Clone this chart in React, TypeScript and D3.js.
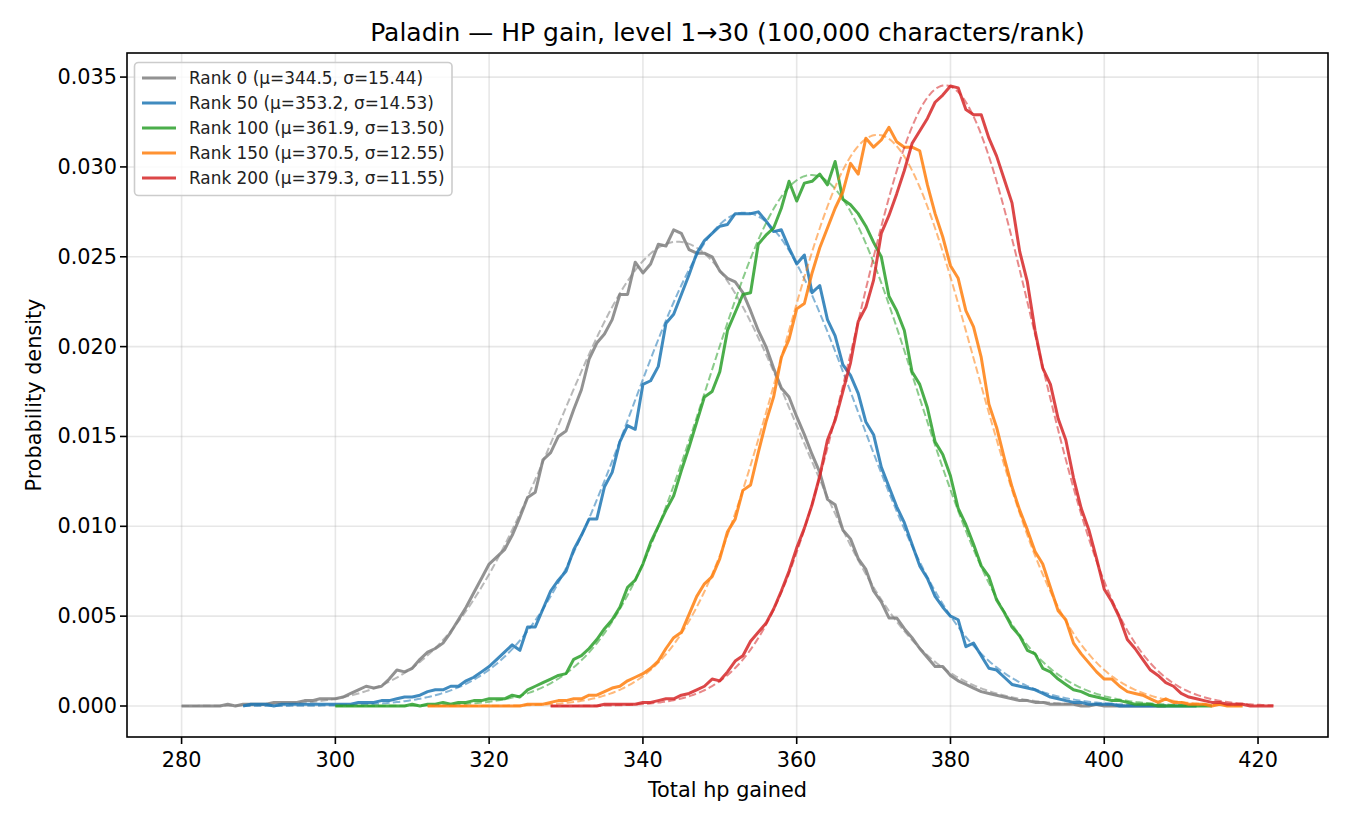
import * as d3 from "d3";

const WIDTH = 1350;
const HEIGHT = 825;
const MARGIN = { top: 53, right: 22, bottom: 88, left: 127 };
const FONT = "DejaVu Sans, sans-serif";

const TITLE = "Paladin — HP gain, level 1→30 (100,000 characters/rank)";
const X_LABEL = "Total hp gained";
const Y_LABEL = "Probability density";

const RANKS = [0, 50, 100, 150, 200];
const MUS = [344.5, 353.2, 361.9, 370.5, 379.3];
const SIGMAS = [15.44, 14.53, 13.5, 12.55, 11.55];
const STARTS = [280, 288, 300, 312, 328];
const COLORS = ["#7f7f7f", "#1f77b4", "#2ca02c", "#ff7f0e", "#d62728"];

const X_TICKS = [280, 300, 320, 340, 360, 380, 400, 420];
const Y_TICKS = [0, 0.005, 0.01, 0.015, 0.02, 0.025, 0.03, 0.035];

// observed density per hp value, starting at STARTS[i]
const RANK_0 = [
  0.0, 0.0, 0.0, 0.0, 0.0, 0.0, 0.0001, 0.0, 0.0001, 0.0001,
  0.0001, 0.0001, 0.0002, 0.0002, 0.0002, 0.0002, 0.0003, 0.0003, 0.0004, 0.0004,
  0.0004, 0.0005, 0.0007, 0.0009, 0.0011, 0.001, 0.0011, 0.0015, 0.002, 0.0019,
  0.0021, 0.0026, 0.003, 0.0032, 0.0035, 0.0041, 0.0048, 0.0055, 0.0063, 0.0071,
  0.0079, 0.0083, 0.0087, 0.0095, 0.0105, 0.0116, 0.0119, 0.0137, 0.0141, 0.015,
  0.0153, 0.0165, 0.0176, 0.0193, 0.0202, 0.0207, 0.0215, 0.0229, 0.0229, 0.0247,
  0.0241, 0.0246, 0.0257, 0.0256, 0.0265, 0.0263, 0.0254, 0.0252, 0.0252, 0.025,
  0.0242, 0.0238, 0.0236, 0.023, 0.022, 0.0209, 0.02, 0.0188, 0.0177, 0.0172,
  0.0161, 0.0151, 0.014, 0.013, 0.0115, 0.0112, 0.0098, 0.0093, 0.0082, 0.0076,
  0.0064, 0.0058, 0.0049, 0.0049, 0.0043, 0.0038, 0.0032, 0.0027, 0.0022, 0.0022,
  0.0017, 0.0014, 0.0012, 0.001, 0.0008, 0.0007, 0.0006, 0.0005, 0.0004, 0.0003,
  0.0003, 0.0002, 0.0002, 0.0001, 0.0001, 0.0001, 0.0001, 0.0, 0.0, 0.0001,
  0.0, 0.0, 0.0, 0.0, 0.0, 0.0, 0.0, 0.0, 0.0,
];

const RANK_50 = [
  0.0, 0.0001, 0.0001, 0.0001, 0.0, 0.0001, 0.0001, 0.0001, 0.0001, 0.0001,
  0.0001, 0.0001, 0.0001, 0.0001, 0.0001, 0.0002, 0.0002, 0.0002, 0.0003, 0.0003,
  0.0004, 0.0005, 0.0005, 0.0006, 0.0008, 0.0009, 0.0009, 0.0011, 0.0011, 0.0014,
  0.0016, 0.0019, 0.0022, 0.0026, 0.003, 0.0034, 0.0031, 0.0044, 0.0044, 0.0054,
  0.0064, 0.007, 0.0075, 0.0087, 0.0095, 0.0104, 0.0104, 0.0122, 0.013, 0.0147,
  0.0156, 0.0154, 0.0179, 0.0181, 0.0189, 0.0213, 0.0218, 0.0229, 0.024, 0.0252,
  0.0259, 0.0263, 0.0267, 0.0268, 0.0274, 0.0274, 0.0274, 0.0275, 0.027, 0.0264,
  0.0265, 0.0255, 0.0246, 0.0251, 0.023, 0.0234, 0.0215, 0.0206, 0.019, 0.0184,
  0.0174, 0.0158, 0.0151, 0.0133, 0.0122, 0.0111, 0.0102, 0.009, 0.0078, 0.0071,
  0.0061, 0.0055, 0.005, 0.0048, 0.0033, 0.0035, 0.0028, 0.0021, 0.002, 0.0016,
  0.0012, 0.0011, 0.001, 0.0009, 0.0007, 0.0005, 0.0004, 0.0003, 0.0002, 0.0002,
  0.0001, 0.0001, 0.0001, 0.0001, 0.0, 0.0, 0.0, 0.0, 0.0, 0.0,
  0.0, 0.0, 0.0, 0.0, 0.0,
];

const RANK_100 = [
  0.0, 0.0, 0.0, 0.0, 0.0, 0.0, 0.0, 0.0, 0.0, 0.0,
  0.0001, 0.0, 0.0001, 0.0001, 0.0002, 0.0001, 0.0002, 0.0002, 0.0003, 0.0003,
  0.0004, 0.0004, 0.0004, 0.0006, 0.0005, 0.0009, 0.0011, 0.0013, 0.0015, 0.0017,
  0.0018, 0.0026, 0.0028, 0.0032, 0.0037, 0.0043, 0.0048, 0.0055, 0.0066, 0.007,
  0.0079, 0.0091, 0.01, 0.0109, 0.0117, 0.0131, 0.0144, 0.0158, 0.0172, 0.0175,
  0.0186, 0.0209, 0.0219, 0.0229, 0.023, 0.0257, 0.0262, 0.0266, 0.0277, 0.0292,
  0.0281, 0.0291, 0.0292, 0.0296, 0.029, 0.0303, 0.0282, 0.0279, 0.0274, 0.0267,
  0.0258, 0.025, 0.0228, 0.022, 0.0209, 0.0186, 0.0179, 0.0166, 0.0147, 0.014,
  0.0128, 0.011, 0.0101, 0.009, 0.0078, 0.0072, 0.0059, 0.0052, 0.0044, 0.0039,
  0.0031, 0.0029, 0.0021, 0.0019, 0.0015, 0.0012, 0.0009, 0.0008, 0.0006, 0.0005,
  0.0004, 0.0003, 0.0003, 0.0002, 0.0001, 0.0001, 0.0001, 0.0, 0.0, 0.0,
  0.0, 0.0, 0.0, 0.0, 0.0,
];

const RANK_150 = [
  0.0, 0.0, 0.0, 0.0, 0.0, 0.0, 0.0, 0.0, 0.0, 0.0,
  0.0, 0.0, 0.0, 0.0001, 0.0001, 0.0001, 0.0002, 0.0003, 0.0003, 0.0004,
  0.0004, 0.0006, 0.0006, 0.0008, 0.001, 0.0011, 0.0014, 0.0016, 0.0018, 0.0021,
  0.0025, 0.0032, 0.0038, 0.0041, 0.0051, 0.0061, 0.0068, 0.0072, 0.0082, 0.0097,
  0.0104, 0.012, 0.0123, 0.0141, 0.0158, 0.0172, 0.0194, 0.0204, 0.0221, 0.0224,
  0.0241, 0.0255, 0.0266, 0.0277, 0.0286, 0.0302, 0.0296, 0.0316, 0.0311, 0.0315,
  0.0322, 0.0314, 0.0311, 0.0311, 0.0309, 0.029, 0.0274, 0.0261, 0.0245, 0.0238,
  0.022, 0.0211, 0.0194, 0.0168, 0.0155, 0.0138, 0.0122, 0.0109, 0.0098, 0.0086,
  0.0079, 0.0066, 0.0053, 0.0048, 0.0035, 0.0029, 0.0024, 0.0019, 0.0015, 0.0015,
  0.0011, 0.0008, 0.0007, 0.0006, 0.0004, 0.0002, 0.0004, 0.0002, 0.0002, 0.0001,
  0.0001, 0.0001, 0.0, 0.0001, 0.0, 0.0, 0.0,
];

const RANK_200 = [
  0.0, 0.0, 0.0, 0.0, 0.0, 0.0, 0.0, 0.0001, 0.0001, 0.0001,
  0.0001, 0.0001, 0.0002, 0.0002, 0.0003, 0.0004, 0.0004, 0.0006, 0.0007, 0.0009,
  0.0011, 0.0015, 0.0014, 0.0019, 0.0025, 0.0028, 0.0036, 0.0041, 0.0046, 0.0054,
  0.0064, 0.0075, 0.0088, 0.0099, 0.0112, 0.0128, 0.0148, 0.0159, 0.0175, 0.0191,
  0.0214, 0.0222, 0.0237, 0.0263, 0.0273, 0.0285, 0.0298, 0.0313, 0.032, 0.0327,
  0.0336, 0.034, 0.0345, 0.0344, 0.0332, 0.0329, 0.0329, 0.0316, 0.0306, 0.0293,
  0.028, 0.0253, 0.0236, 0.0209, 0.0188, 0.0179, 0.016, 0.0148, 0.0127, 0.011,
  0.0098, 0.0082, 0.0065, 0.0058, 0.0049, 0.0037, 0.0032, 0.0026, 0.002, 0.0017,
  0.0013, 0.0011, 0.0007, 0.0005, 0.0004, 0.0003, 0.0002, 0.0002, 0.0001, 0.0001,
  0.0001, 0.0, 0.0, 0.0, 0.0,
];

const OBSERVED = [RANK_0, RANK_50, RANK_100, RANK_150, RANK_200];

type Pt = [number, number];

function normalPdf(v: number, mu: number, sigma: number) {
  const z = (v - mu) / sigma;
  return Math.exp(-0.5 * z * z) / (sigma * Math.sqrt(2 * Math.PI));
}

export default function App() {
  const x = d3
    .scaleLinear()
    .domain([272.9, 429.1])
    .range([MARGIN.left, WIDTH - MARGIN.right]);
  const y = d3
    .scaleLinear()
    .domain([-0.001725, 0.03634])
    .range([HEIGHT - MARGIN.bottom, MARGIN.top]);

  const line = d3
    .line<Pt>()
    .x((d) => x(d[0]))
    .y((d) => y(d[1]));

  const x0 = MARGIN.left;
  const x1 = WIDTH - MARGIN.right;
  const y0 = HEIGHT - MARGIN.bottom;
  const y1 = MARGIN.top;

  const series = RANKS.map((rank, i) => {
    const vals = OBSERVED[i];
    const start = STARTS[i];
    const pts: Pt[] = vals.map((v, j) => [start + j, v]);
    const end = start + vals.length - 1;
    const fit: Pt[] = d3
      .range(start, end + 0.001, 0.25)
      .map((v) => [v, normalPdf(v, MUS[i], SIGMAS[i])]);
    return {
      rank,
      color: COLORS[i],
      label: `Rank ${rank} (μ=${MUS[i].toFixed(1)}, σ=${SIGMAS[i].toFixed(2)})`,
      obs: line(pts) ?? "",
      fit: line(fit) ?? "",
    };
  });

  const legendX = 134.5;
  const legendY = 62.5;

  return (
    <>
      <style>{`body{margin:0;background:#fff}`}</style>
      <svg
        width={WIDTH}
        height={HEIGHT}
        style={{ display: "block", fontFamily: FONT }}
      >
        <rect width={WIDTH} height={HEIGHT} fill="#fff" />
        <defs>
          <clipPath id="plot-clip">
            <rect x={x0} y={y1} width={x1 - x0} height={y0 - y1} />
          </clipPath>
        </defs>

        {/* grid */}
        <g stroke="#b0b0b0" strokeOpacity={0.3} strokeWidth={1.6}>
          {X_TICKS.map((t) => (
            <line key={`gx${t}`} x1={x(t)} x2={x(t)} y1={y1} y2={y0} />
          ))}
          {Y_TICKS.map((t) => (
            <line key={`gy${t}`} x1={x0} x2={x1} y1={y(t)} y2={y(t)} />
          ))}
        </g>

        <g clipPath="url(#plot-clip)" fill="none" strokeLinejoin="round">
          {series.map((s) => (
            <g key={s.rank}>
              <path
                d={s.obs}
                stroke={s.color}
                strokeOpacity={0.85}
                strokeWidth={3}
              />
              <path
                d={s.fit}
                stroke={s.color}
                strokeOpacity={0.55}
                strokeWidth={2}
                strokeDasharray="7.5,3.2"
              />
            </g>
          ))}
        </g>

        {/* axes frame */}
        <rect
          x={x0}
          y={y1}
          width={x1 - x0}
          height={y0 - y1}
          fill="none"
          stroke="#000"
          strokeWidth={1.6}
        />

        {/* ticks */}
        <g fontSize={20.8} fill="#000">
          {X_TICKS.map((t) => (
            <g key={`xt${t}`}>
              <line x1={x(t)} x2={x(t)} y1={y0} y2={y0 + 7} stroke="#000" strokeWidth={1.6} />
              <text x={x(t)} y={y0 + 30} textAnchor="middle">
                {t}
              </text>
            </g>
          ))}
          {Y_TICKS.map((t) => (
            <g key={`yt${t}`}>
              <line x1={x0 - 7} x2={x0} y1={y(t)} y2={y(t)} stroke="#000" strokeWidth={1.6} />
              <text x={x0 - 10} y={y(t)} textAnchor="end" dominantBaseline="central">
                {t.toFixed(3)}
              </text>
            </g>
          ))}
        </g>

        <text x={(x0 + x1) / 2} y={797} textAnchor="middle" fontSize={20.8}>
          {X_LABEL}
        </text>
        <text
          transform={`translate(41, ${(y0 + y1) / 2}) rotate(-90)`}
          textAnchor="middle"
          fontSize={20.8}
        >
          {Y_LABEL}
        </text>
        <text x={(x0 + x1) / 2} y={41} textAnchor="middle" fontSize={25}>
          {TITLE}
        </text>

        {/* legend */}
        <g>
          <rect
            x={legendX}
            y={legendY}
            width={317.5}
            height={133}
            rx={4}
            fill="#fff"
            fillOpacity={0.8}
            stroke="#cccccc"
            strokeWidth={1.6}
          />
          {series.map((s, i) => {
            const ly = legendY + 15.5 + i * 25;
            return (
              <g key={`lg${s.rank}`}>
                <line
                  x1={142}
                  x2={176}
                  y1={ly}
                  y2={ly}
                  stroke={s.color}
                  strokeOpacity={0.85}
                  strokeWidth={3}
                />
                <text x={189} y={ly} dominantBaseline="central" fontSize={16.9} fill="#222">
                  {s.label}
                </text>
              </g>
            );
          })}
        </g>
      </svg>
    </>
  );
}
